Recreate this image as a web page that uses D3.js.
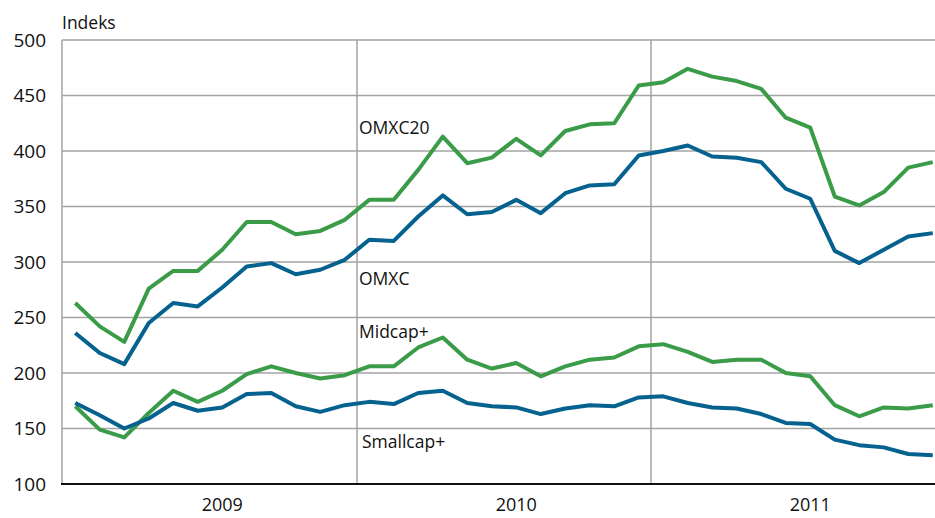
<!DOCTYPE html>
<html>
<head>
<meta charset="utf-8">
<script src="https://cdn.jsdelivr.net/npm/d3@7"></script>
<style>
  body { margin: 0; background: #fff; }
  svg text { font-family: "Open Sans", "DejaVu Sans", sans-serif; fill: #111; }
</style>
</head>
<body>
<svg id="chart" width="935" height="518"></svg>
<script>
// Monthly index values, Jan 2009 - Dec 2011
const years = ["2009", "2010", "2011"];
const yTicks = [100, 150, 200, 250, 300, 350, 400, 450, 500];

const omxc20 = [263, 242, 228, 276, 292, 292, 311, 336, 336, 325, 328, 338,
                356, 356, 383, 413, 389, 394, 411, 396, 418, 424, 425, 459,
                462, 474, 467, 463, 456, 430, 421, 359, 351, 363, 385, 390];
const omxc   = [236, 218, 208, 245, 263, 260, 277, 296, 299, 289, 293, 302,
                320, 319, 341, 360, 343, 345, 356, 344, 362, 369, 370, 396,
                400, 405, 395, 394, 390, 366, 357, 310, 299, 311, 323, 326];
const midcap = [170, 149, 142, 164, 184, 174, 184, 199, 206, 200, 195, 198,
                206, 206, 223, 232, 212, 204, 209, 197, 206, 212, 214, 224,
                226, 219, 210, 212, 212, 200, 197, 171, 161, 169, 168, 171];
const smallcap = [173, 162, 150, 159, 173, 166, 169, 181, 182, 170, 165, 171,
                  174, 172, 182, 184, 173, 170, 169, 163, 168, 171, 170, 178,
                  179, 173, 169, 168, 163, 155, 154, 140, 135, 133, 127, 126];

const seriesNames = ["OMXC20", "OMXC", "Midcap+", "Smallcap+"];
const labelValues = [421, 285, 237, 138]; // where the series names sit on the y scale

const svg = d3.select("#chart");
const plotLeft = 62, plotRight = 945, plotTop = 40, plotBottom = 484;

const x = d3.scaleLinear().domain([0, 36]).range([plotLeft + 1, plotRight]);
const y = d3.scaleLinear().domain([100, 500]).range([plotBottom, plotTop]);

// horizontal grid
svg.append("g")
  .selectAll("line")
  .data(yTicks.filter(d => d > 100))
  .join("line")
  .attr("x1", plotLeft).attr("x2", 935)
  .attr("y1", d => y(d)).attr("y2", d => y(d))
  .attr("stroke", "#a3a3a3").attr("stroke-width", 1.5);

// year separators
svg.append("g")
  .selectAll("line")
  .data([12, 24])
  .join("line")
  .attr("x1", d => x(d)).attr("x2", d => x(d))
  .attr("y1", plotTop).attr("y2", plotBottom)
  .attr("stroke", "#a3a3a3").attr("stroke-width", 1.5);

// left axis line
svg.append("line")
  .attr("x1", plotLeft).attr("x2", plotLeft)
  .attr("y1", plotTop).attr("y2", plotBottom)
  .attr("stroke", "#a3a3a3").attr("stroke-width", 1.5);

// y tick labels
svg.append("g")
  .selectAll("text")
  .data(yTicks)
  .join("text")
  .attr("x", 46)
  .attr("y", d => y(d))
  .attr("dy", "0.35em")
  .attr("text-anchor", "end")
  .style("font-size", "19px")
  .text(d => d);

svg.append("text")
  .attr("x", 62).attr("y", 29)
  .style("font-size", "17.5px")
  .text("Indeks");

// x labels, centred on July of each year
svg.append("g")
  .selectAll("text")
  .data(years)
  .join("text")
  .attr("x", (d, i) => x(i * 12 + 6.5))
  .attr("y", 511)
  .attr("text-anchor", "middle")
  .style("font-size", "18px")
  .text(d => d);

// lines
const line = d3.line()
  .x((d, i) => x(i + 0.5))
  .y(d => y(d));

const series = [
  { values: omxc20, color: "#3a9b48" },
  { values: omxc, color: "#05628f" },
  { values: midcap, color: "#3a9b48" },
  { values: smallcap, color: "#05628f" }
];

svg.append("g")
  .selectAll("path")
  .data(series)
  .join("path")
  .attr("d", d => line(d.values))
  .attr("fill", "none")
  .attr("stroke", d => d.color)
  .attr("stroke-width", 4)
  .attr("stroke-linejoin", "round");

// bottom axis
svg.append("line")
  .attr("x1", plotLeft - 1).attr("x2", 935)
  .attr("y1", plotBottom).attr("y2", plotBottom)
  .attr("stroke", "#111").attr("stroke-width", 2);

// series names
svg.append("g")
  .selectAll("text")
  .data(seriesNames)
  .join("text")
  .attr("x", (d, i) => x(12) + (i === 3 ? 5 : 2))
  .attr("y", (d, i) => y(labelValues[i]))
  .attr("dy", "0.35em")
  .style("font-size", "17.5px")
  .text(d => d);
</script>
</body>
</html>
